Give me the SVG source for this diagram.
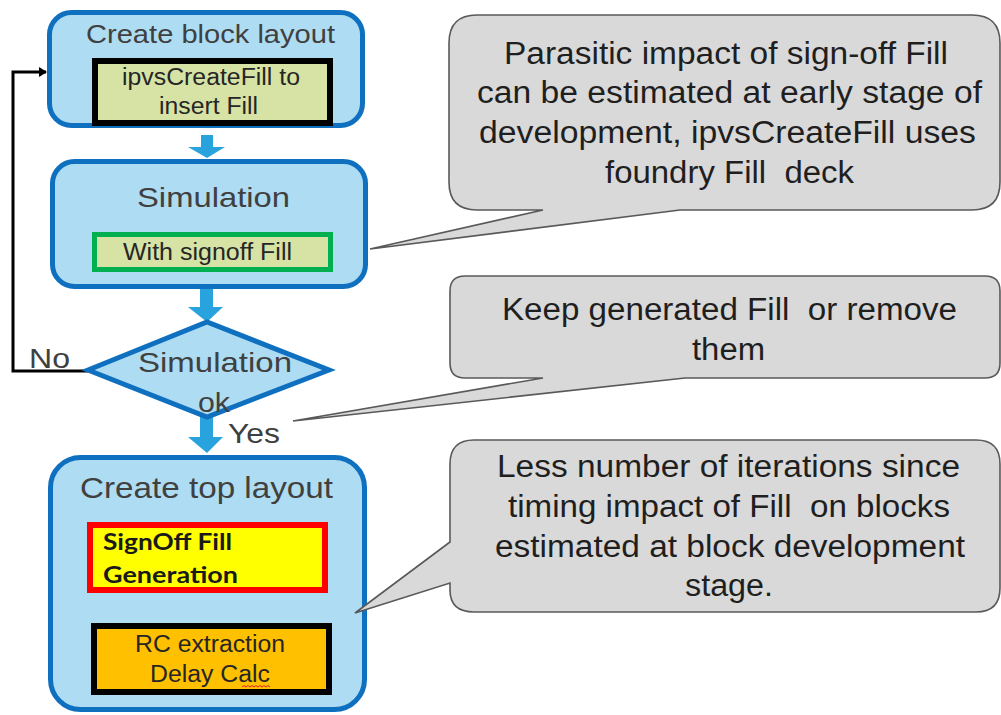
<svg xmlns="http://www.w3.org/2000/svg" width="1001" height="715" viewBox="0 0 1001 715">
  <style>
    .box { fill: #aedcf2; stroke: #1070c0; stroke-width: 5; }
    .title { font-family: "Liberation Sans", Arial, sans-serif; fill: #404040; text-anchor: middle; }
    .inner { font-family: "Liberation Sans", Arial, sans-serif; fill: #262626; text-anchor: middle; font-size: 23px; }
    .bold { font-family: Lato, "Liberation Sans", sans-serif; font-weight: 700; fill: #1a1a1a; font-size: 22px; }
    .callout { fill: #d9d9d9; stroke: #595959; stroke-width: 1.6; }
    .ctext { font-family: "Liberation Sans", Arial, sans-serif; fill: #1f1f1f; text-anchor: middle; font-size: 31px; }
    .blk { fill: #29a3dd; }
    .line { fill: none; stroke: #000; stroke-width: 3; }
  </style>
  <defs>
    <marker id="ah" markerWidth="10" markerHeight="10" refX="7" refY="5" orient="auto" markerUnits="userSpaceOnUse">
      <path d="M0,0 L8,5 L0,10 Z" fill="#000"/>
    </marker>
  </defs>
  <rect width="1001" height="715" fill="#ffffff"/>

  <g id="connectors">
    <path class="blk" d="M201,135 H213 V147 H225 L207,158 L188,147 H201 Z"/>
    <path class="blk" d="M200,289 H213 V307 H223 L207,322 L188,307 H200 Z"/>
    <path class="blk" d="M200,417 H213 V437 H223 L207,453 L188,437 H200 Z"/>
    <path class="line" d="M88,371 H13 V72 H46" marker-end="url(#ah)"/>
    <path class="line" d="M332,658 H350 V555 H333" marker-end="url(#ah)"/>
  </g>

  <g id="create-block-layout">
    <rect class="box" x="49.5" y="12.5" width="313" height="113" rx="22"/>
    <text class="title" x="210.5" y="43" font-size="26" textLength="249" lengthAdjust="spacingAndGlyphs">Create block layout</text>
    <rect x="95" y="61" width="235" height="62" fill="#d6e3a5" stroke="#000" stroke-width="6"/>
    <text class="inner" x="211" y="85" textLength="178" lengthAdjust="spacingAndGlyphs">ipvsCreateFill to</text>
    <text class="inner" x="208.5" y="114" textLength="99" lengthAdjust="spacingAndGlyphs">insert Fill</text>
  </g>

  <g id="simulation">
    <rect class="box" x="52.5" y="161.5" width="313" height="125" rx="22"/>
    <text class="title" x="213.5" y="207" font-size="28" textLength="153" lengthAdjust="spacingAndGlyphs">Simulation</text>
    <rect x="94.5" y="234.5" width="236" height="35" fill="#d6e3a5" stroke="#00b050" stroke-width="5"/>
    <text class="inner" x="207.5" y="260" font-size="24" textLength="169" lengthAdjust="spacingAndGlyphs">With signoff Fill</text>
  </g>

  <g id="simulation-ok">
    <polygon class="box" points="88,370 207,322 329,370 207,417"/>
    <text class="title" x="215" y="372" font-size="28" textLength="154" lengthAdjust="spacingAndGlyphs">Simulation</text>
    <text class="title" x="214" y="412" font-size="28" textLength="32" lengthAdjust="spacingAndGlyphs">ok</text>
  </g>

  <g id="labels">
    <text class="title" x="49.5" y="368" font-size="27" textLength="41" lengthAdjust="spacingAndGlyphs">No</text>
    <text class="title" x="254" y="443" font-size="27" textLength="52" lengthAdjust="spacingAndGlyphs">Yes</text>
  </g>

  <g id="create-top-layout">
    <rect class="box" x="50.5" y="457.5" width="314" height="252" rx="30"/>
    <text class="title" x="206.5" y="498" font-size="30" textLength="253" lengthAdjust="spacingAndGlyphs">Create top layout</text>
    <rect x="90" y="525" width="235" height="65" fill="#ffff00" stroke="#ff0000" stroke-width="6"/>
    <text class="bold" x="103" y="550" textLength="129" lengthAdjust="spacingAndGlyphs">SignOff Fill</text>
    <text class="bold" x="103" y="583" textLength="135" lengthAdjust="spacingAndGlyphs">Generation</text>
    <rect x="94" y="626" width="235" height="66" fill="#ffc000" stroke="#000" stroke-width="6"/>
    <text class="inner" x="210" y="652" textLength="150" lengthAdjust="spacingAndGlyphs">RC extraction</text>
    <text class="inner" x="210" y="682" textLength="120" lengthAdjust="spacingAndGlyphs">Delay Calc</text>
    <path d="M242,687 l2,-1.5 l2,1.5 l2,-1.5 l2,1.5 l2,-1.5 l2,1.5 l2,-1.5 l2,1.5 l2,-1.5 l2,1.5 l2,-1.5 l2,1.5 l2,-1.5 l2,1.5" fill="none" stroke="#e02020" stroke-width="1"/>
  </g>

  <g id="callout-parasitic">
    <path class="callout" d="M477,15 H972 Q1000,15 1000,43 V182 Q1000,210 972,210 H680 L370,249 L543,210 H477 Q449,210 449,182 V43 Q449,15 477,15 Z"/>
    <text class="ctext" x="726" y="64" textLength="444" lengthAdjust="spacingAndGlyphs">Parasitic impact of sign-off Fill</text>
    <text class="ctext" x="729.5" y="103" textLength="505" lengthAdjust="spacingAndGlyphs">can be estimated at early stage of</text>
    <text class="ctext" x="727.5" y="143" textLength="497" lengthAdjust="spacingAndGlyphs">development, ipvsCreateFill uses</text>
    <text class="ctext" x="729.5" y="183" textLength="249" lengthAdjust="spacingAndGlyphs" xml:space="preserve">foundry Fill  deck</text>
  </g>

  <g id="callout-keep">
    <path class="callout" d="M465,276 H985 Q1000,276 1000,291 V363 Q1000,378 985,378 H685 L293,421 L543,378 H465 Q450,378 450,363 V291 Q450,276 465,276 Z"/>
    <text class="ctext" x="729.5" y="320" textLength="455" lengthAdjust="spacingAndGlyphs" xml:space="preserve">Keep generated Fill  or remove</text>
    <text class="ctext" x="728.5" y="360" textLength="73" lengthAdjust="spacingAndGlyphs">them</text>
  </g>

  <g id="callout-iterations">
    <path class="callout" d="M474,440 H976 Q1000,440 1000,464 V588 Q1000,612 976,612 H474 Q450,612 450,590 V583 L355,613 L450,542 V464 Q450,440 474,440 Z"/>
    <text class="ctext" x="728.5" y="477" textLength="463" lengthAdjust="spacingAndGlyphs">Less number of iterations since</text>
    <text class="ctext" x="729" y="517" textLength="442" lengthAdjust="spacingAndGlyphs" xml:space="preserve">timing impact of Fill  on blocks</text>
    <text class="ctext" x="730" y="557" textLength="470" lengthAdjust="spacingAndGlyphs">estimated at block development</text>
    <text class="ctext" x="729" y="596" textLength="88" lengthAdjust="spacingAndGlyphs">stage.</text>
  </g>
</svg>
